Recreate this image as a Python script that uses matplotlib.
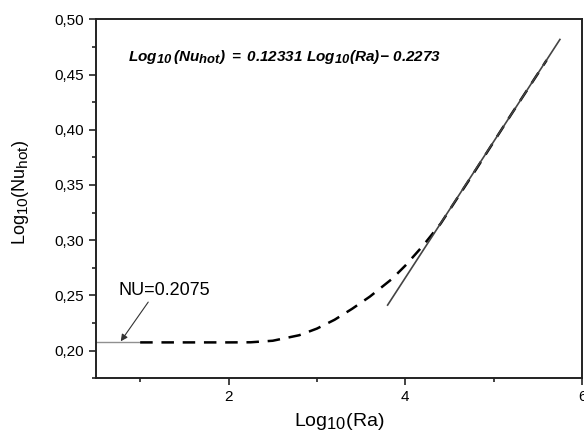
import numpy as np
import matplotlib
matplotlib.use('Agg')
import matplotlib.pyplot as plt
import matplotlib._mathtext as mathtext_core
from matplotlib.ticker import FuncFormatter, MultipleLocator

# dashed curve
ra_curve = [1.0, 1.5, 2.0, 2.25, 2.5, 2.8, 3.0, 3.2, 3.4, 3.6, 3.85, 4.0, 4.2, 4.4, 4.8, 5.2, 5.6]
nu_curve = [0.2075, 0.2075, 0.2075, 0.2076, 0.2090, 0.2140, 0.2200, 0.2280, 0.2380, 0.2490,
            0.2650, 0.2770, 0.2950, 0.3150, 0.3640, 0.4140, 0.4630]

# linear fit: Log10(Nu_hot) = 0.12331 Log10(Ra) - 0.2273
fit_slope = 0.12331
fit_icpt = -0.2273
fit_range = [3.8, 5.75]

# conduction limit
nu_cond = 0.2075
cond_range = [0.5, 1.0]

plt.rcParams['font.family'] = ['Liberation Sans', 'DejaVu Sans']
plt.rcParams['mathtext.fontset'] = 'custom'
plt.rcParams['mathtext.rm'] = 'Liberation Sans'
plt.rcParams['mathtext.it'] = 'Liberation Sans:italic'
plt.rcParams['mathtext.bf'] = 'Liberation Sans:bold:italic'
# Origin-style subscripts are nearly full size
mathtext_core.SHRINK_FACTOR = 0.85

fig = plt.figure(figsize=(5.84, 4.38), dpi=100)
ax = fig.add_axes([0.1644, 0.1363, 0.8322, 0.8197])

ax.plot(cond_range, [nu_cond, nu_cond], color='#909090', lw=1.0)
ax.plot(ra_curve, nu_curve, color='black', lw=1.8, dashes=(5, 3.5))
fx = np.array(fit_range)
ax.plot(fx, fit_slope * fx + fit_icpt, color='#444444', lw=1.2)

ax.annotate('NU=0.2075', xy=(0.78, 0.2085), xytext=(0.75, 0.2465),
            fontsize=13, ha='left', va='bottom',
            arrowprops=dict(arrowstyle='-|>', color='#333333', lw=0.8,
                            mutation_scale=10, shrinkA=0, shrinkB=0,
                            relpos=(0.35, 0.0)))

ax.text(0.86, 0.466, r'$\mathbf{Log_{10}\,(Nu_{hot})\ =\ 0.12331\ Log_{10}(Ra)\!-\!\ 0.2273}$',
        fontsize=11, ha='left', va='center')

ax.set_xlim(0.5, 6.0)
ax.set_ylim(0.175, 0.5)
ax.xaxis.set_major_locator(MultipleLocator(2))
ax.xaxis.set_minor_locator(MultipleLocator(1))
ax.yaxis.set_major_locator(MultipleLocator(0.05))
ax.yaxis.set_minor_locator(MultipleLocator(0.025))
ax.yaxis.set_major_formatter(FuncFormatter(lambda v, p: f'{v:.2f}'.replace('.', ',')))
ax.xaxis.set_major_formatter(FuncFormatter(lambda v, p: f'{v:.0f}'))

ax.tick_params(which='major', direction='out', length=5, width=1.2, labelsize=11, color='#222222')
ax.tick_params(which='minor', direction='out', length=3, width=1.2, color='#222222')
for s in ax.spines.values():
    s.set_linewidth(1.4)
    s.set_color('#222222')

ax.set_xlabel(r'Log$_{\mathrm{10}}$(Ra)', fontsize=14, labelpad=5)
ax.set_ylabel(r'Log$_{\mathrm{10}}$(Nu$_{\mathrm{hot}}$)', fontsize=13)
ax.yaxis.set_label_coords(-0.134, 0.519)

fig.savefig('out.png', dpi=100)
